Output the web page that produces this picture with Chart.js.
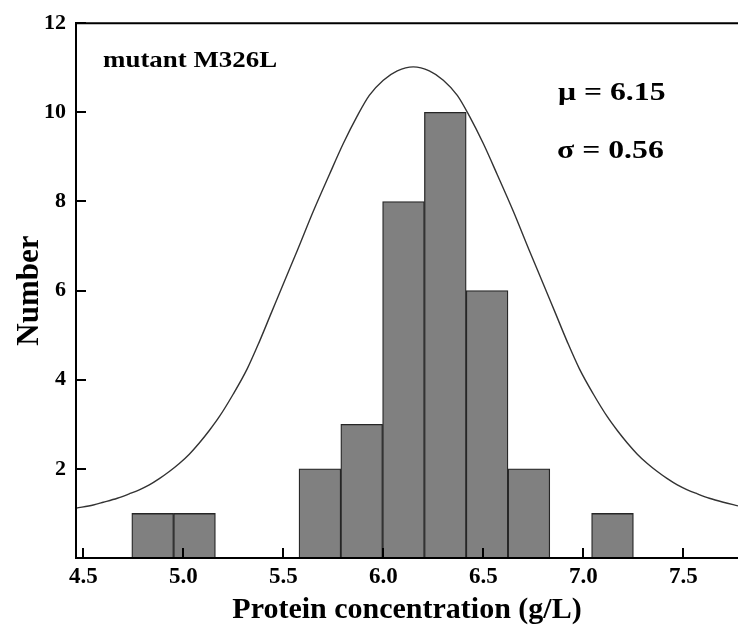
<!DOCTYPE html>
<html>
<head>
<meta charset="utf-8">
<script src="https://cdn.jsdelivr.net/npm/chart.js@4/dist/chart.umd.min.js"></script>
<style>
  html, body { margin: 0; padding: 0; background: #fff; }
  #wrap { width: 738px; height: 628px; }
</style>
</head>
<body>
<div id="wrap"><canvas id="c" width="738" height="628"></canvas></div>
<script>
// ---- data ----
const binCenters = [4.847, 5.056, 5.683, 5.892, 6.101, 6.310, 6.519, 6.728, 7.146];
const binCounts  = [1, 1, 2, 3, 8, 10, 6, 2, 1];

const curveX = [4.465, 4.55, 4.60, 4.67, 4.73, 4.78, 4.83, 4.88, 4.93, 4.98, 5.03, 5.08, 5.13, 5.18, 5.25,
                5.32, 5.38, 5.44, 5.50, 5.57, 5.65, 5.73, 5.80, 5.87, 5.93, 6.00, 6.07, 6.15, 6.23, 6.30,
                6.37, 6.43, 6.50, 6.57, 6.65, 6.73, 6.80, 6.86, 6.92, 6.98, 7.05, 7.12, 7.17, 7.22, 7.27,
                7.32, 7.37, 7.42, 7.47, 7.52, 7.57, 7.63, 7.70, 7.7735];
const curveY = [1.12, 1.19, 1.25, 1.34, 1.44, 1.53, 1.64, 1.78, 1.94, 2.12, 2.33, 2.58, 2.86, 3.17, 3.68,
                4.25, 4.85, 5.50, 6.15, 6.90, 7.78, 8.60, 9.30, 9.92, 10.38, 10.72, 10.93, 11.02, 10.93, 10.72,
                10.38, 9.92, 9.30, 8.60, 7.78, 6.90, 6.15, 5.50, 4.85, 4.25, 3.68, 3.17, 2.86, 2.58, 2.33,
                2.12, 1.94, 1.78, 1.64, 1.53, 1.44, 1.34, 1.25, 1.17];

const xTitle = 'Protein concentration (g/L)';
const yTitle = 'Number';
const sampleLabel = 'mutant M326L';
const statLabels = ['μ = 6.15', 'σ = 0.56'];

// ---- build ----
const SERIF = "'Liberation Serif', 'Times New Roman', serif";
const barData = binCenters.map((x, i) => ({ x: x, y: binCounts[i] }));
const curveData = curveX.map((x, i) => ({ x: x, y: curveY[i] }));

const frameAndTicks = {
  id: 'frameAndTicks',
  afterDatasetsDraw(chart) {
    const { ctx, chartArea: a, scales } = chart;
    ctx.save();
    ctx.strokeStyle = '#000';
    ctx.lineWidth = 2;
    ctx.beginPath();
    ctx.moveTo(a.left, a.top); ctx.lineTo(a.left, a.bottom + 1);
    ctx.moveTo(a.left - 1, a.bottom); ctx.lineTo(a.right, a.bottom);
    ctx.moveTo(a.left - 1, a.top); ctx.lineTo(a.right, a.top);
    ctx.stroke();
    ctx.beginPath();
    scales.x.ticks.forEach((t, i) => {
      const px = Math.round(scales.x.getPixelForTick(i));
      ctx.moveTo(px, a.bottom); ctx.lineTo(px, a.bottom - 10);
    });
    scales.y.ticks.forEach((t, i) => {
      if (t.value === 0) return;
      const py = Math.round(scales.y.getPixelForTick(i));
      ctx.moveTo(a.left, py); ctx.lineTo(a.left + 10, py);
    });
    ctx.stroke();
    ctx.restore();
  }
};

const annotationText = {
  id: 'annotationText',
  afterDatasetsDraw(chart) {
    const { ctx } = chart;
    const items = [
      { text: sampleLabel,   x: 103, y: 67,  size: 23, sx: 1.17 },
      { text: statLabels[0], x: 558, y: 100, size: 25, sx: 1.27 },
      { text: statLabels[1], x: 557, y: 158, size: 25, sx: 1.27 }
    ];
    ctx.save();
    ctx.fillStyle = '#000';
    ctx.textBaseline = 'alphabetic';
    ctx.textAlign = 'left';
    items.forEach(it => {
      ctx.save();
      ctx.font = 'bold ' + it.size + 'px ' + SERIF;
      ctx.translate(it.x, it.y);
      ctx.scale(it.sx, 1);
      ctx.fillText(it.text, 0, 0);
      ctx.restore();
    });
    ctx.restore();
  }
};

new Chart(document.getElementById('c'), {
  type: 'bar',
  data: {
    datasets: [
      {
        type: 'line',
        label: 'fit',
        data: curveData,
        borderColor: '#333333',
        borderWidth: 1.4,
        pointRadius: 0,
        fill: false,
        cubicInterpolationMode: 'monotone',
        order: 1
      },
      {
        type: 'bar',
        label: 'count',
        data: barData,
        backgroundColor: '#808080',
        borderColor: '#262626',
        borderWidth: 1.3,
        barPercentage: 1,
        categoryPercentage: 1,
        order: 2
      }
    ]
  },
  options: {
    responsive: false,
    maintainAspectRatio: false,
    animation: false,
    devicePixelRatio: 1,
    layout: { padding: { top: 19, left: 0, right: 0, bottom: 0 } },
    plugins: { legend: { display: false }, tooltip: { enabled: false } },
    scales: {
      x: {
        type: 'linear',
        offset: false,
        min: 4.4635,
        max: 7.7735,
        grid: { display: false, drawTicks: false, offset: false },
        border: { display: true, color: '#000', width: 2 },
        ticks: {
          stepSize: 0.5,
          includeBounds: false,
          autoSkip: false,
          maxRotation: 0,
          padding: 5,
          color: '#000',
          font: { family: SERIF, size: 23, weight: 'bold' },
          callback: v => Number(v).toFixed(1)
        },
        title: {
          display: true,
          text: xTitle,
          color: '#000',
          font: { family: SERIF, size: 30, weight: 'bold' },
          padding: { top: 0, bottom: 0 }
        },
        afterFit(scale) { scale.height = 70; }
      },
      y: {
        type: 'linear',
        min: 0,
        max: 12,
        grid: { display: false, drawTicks: false },
        border: { display: true, color: '#000', width: 2 },
        ticks: {
          stepSize: 2,
          padding: 10,
          color: '#000',
          font: { family: SERIF, size: 22, weight: 'bold' },
          callback: v => (v === 0 ? '' : v)
        },
        title: {
          display: true,
          text: yTitle,
          color: '#000',
          font: { family: SERIF, size: 31, weight: 'bold' },
          padding: { top: 11, bottom: 0 }
        },
        afterFit(scale) { scale.width = 76; }
      }
    }
  },
  plugins: [frameAndTicks, annotationText]
});
</script>
</body>
</html>
